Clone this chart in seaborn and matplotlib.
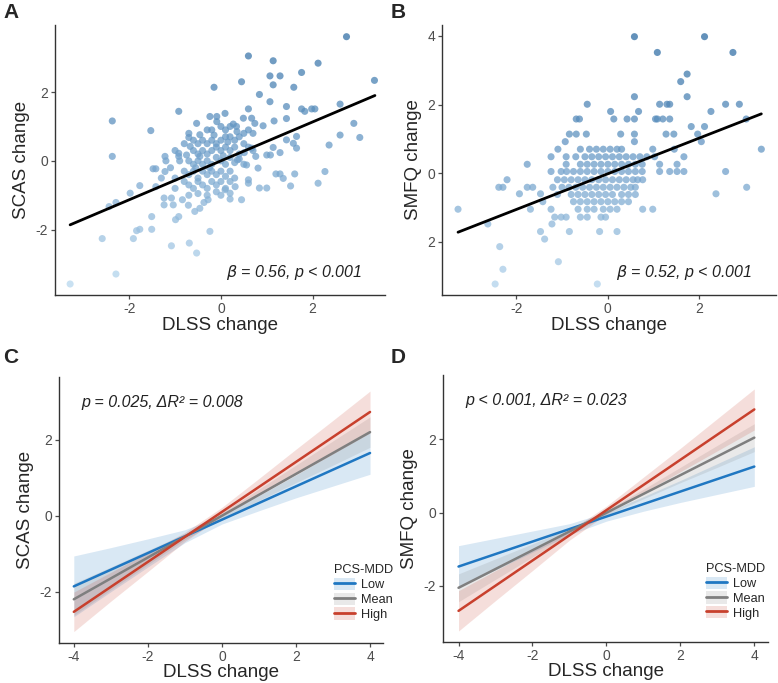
import numpy as np
import matplotlib as mpl
mpl.use('Agg')

import matplotlib.pyplot as plt
import seaborn as sns
import pandas as pd
from matplotlib.patches import Patch
from matplotlib.lines import Line2D

# Panel A: DLSS change vs SCAS change
a_points = [
    (2.74, 3.61), (0.60, 3.05), (1.14, 2.91), (2.12, 2.84), (1.07, 2.47), (1.29, 2.47),
    (1.76, 2.57), (0.45, 2.30), (3.35, 2.34), (1.14, 2.21), (1.59, 2.14), (-0.15, 2.14),
    (0.84, 1.93), (1.07, 1.72), (2.60, 1.65), (0.60, 1.51), (1.43, 1.58), (1.76, 1.51),
    (1.98, 1.51), (2.05, 1.51), (1.83, 1.44), (-0.92, 1.44), (-2.37, 1.16), (1.16, 1.16),
    (1.43, 1.23), (2.90, 1.09), (-1.53, 0.88), (2.60, 0.75), (3.03, 0.68), (2.36, 0.46),
    (-2.37, 0.13), (2.27, -0.31), (2.12, -0.65), (-1.98, -0.94), (-2.29, -1.21), (-2.44, -1.33),
    (-1.77, -0.72), (-1.51, -1.62), (-1.51, -1.99), (-1.77, -1.99), (-1.84, -2.03), (-1.91, -2.26),
    (-2.59, -2.26), (-0.24, -2.05), (-0.92, -1.62), (-0.99, -1.71), (-1.08, -2.47), (-0.69, -2.39),
    (-0.53, -2.68), (-2.29, -3.29), (-3.29, -3.58), (1.61, -0.38), (1.52, -0.73), (1.29, -0.38),
    (1.20, -0.38), (1.36, -0.51), (1.00, -0.79), (0.84, -0.79), (0.45, -1.13), (0.60, -0.65),
    (0.60, -0.55), (0.31, -0.75), (0.20, -0.94), (0.09, -0.84), (0.20, -1.11), (-0.37, -1.21),
    (-0.28, -1.13), (-0.46, -1.38), (-0.57, -1.47), (-0.71, -1.29), (-0.84, -1.13), (-1.04, -1.28),
    (-1.24, -1.28), (-1.24, -1.08), (-1.08, -1.08), (-1.42, -0.75), (-1.42, -0.23), (-1.48, -0.23),
    (-1.22, -0.31), (-1.22, 0.13), (-0.92, 0.22), (-0.92, 0.13), (-0.75, 0.17), (-0.46, 0.13),
    (-0.70, 0.68), (-0.67, 0.42), (-0.46, 0.76), (-0.53, 1.09), (-0.24, 1.29), (-0.09, 1.29),
    (-0.09, 1.14), (0.09, 1.38), (0.27, 1.07), (0.34, 1.00), (0.49, 1.24), (0.67, 1.24),
    (0.74, 1.09), (0.92, 1.02), (1.14, 0.39), (1.00, 0.17), (1.08, 0.17), (1.29, 0.24),
    (1.43, 0.61), (1.65, 0.71), (1.65, 0.37), (1.58, 0.51), (0.76, 0.13), (0.81, -0.21),
    (0.56, -0.12), (0.51, 0.24), (0.67, 0.37), (0.36, 0.03),
    (-0.60, 0.60), (-0.50, 0.50), (-0.40, 0.60), (-0.30, 0.50), (-0.20, 0.60), (-0.10, 0.50),
    (0.00, 0.60), (0.10, 0.70), (0.20, 0.70), (0.30, 0.60), (0.40, 0.70), (0.50, 0.80),
    (0.60, 0.90), (0.70, 0.80), (-0.60, 0.30), (-0.50, 0.20), (-0.40, 0.30), (-0.30, 0.20),
    (-0.20, 0.30), (-0.10, 0.40), (0.00, 0.30), (0.10, 0.40), (0.20, 0.30), (0.30, 0.40),
    (0.40, 0.20), (0.50, 0.50), (0.60, 0.40), (0.70, 0.30), (-0.70, 0.00), (-0.60, -0.10),
    (-0.50, 0.00), (-0.40, -0.10), (-0.30, 0.00), (-0.20, -0.10), (-0.10, 0.10), (0.00, 0.00),
    (0.10, -0.10), (0.20, 0.10), (0.30, -0.05), (0.40, 0.05), (0.50, -0.10), (-0.80, -0.30),
    (-0.70, -0.40), (-0.60, -0.30), (-0.50, -0.50), (-0.40, -0.30), (-0.30, -0.40), (-0.20, -0.30),
    (-0.10, -0.40), (0.00, -0.30), (0.10, -0.45), (0.20, -0.30), (0.30, -0.50), (-0.80, -0.60),
    (-0.70, -0.70), (-0.60, -0.80), (-0.50, -0.60), (-0.40, -0.70), (-0.30, -0.80), (-0.20, -0.60),
    (-0.10, -0.70), (0.00, -0.60), (0.10, -0.80), (0.20, -0.60), (-0.70, -1.00), (-0.50, -0.95),
    (-0.30, -1.00), (-0.10, -0.90), (0.00, -1.00), (-1.00, -0.50), (-1.10, -0.20), (-1.20, 0.00),
    (-1.00, -0.80), (-1.30, -0.50), (-0.90, 0.00), (-1.00, 0.30), (-0.80, 0.50), (-0.70, 0.80),
    (-0.20, 0.90), (0.00, 1.00), (0.20, 1.00), (-0.30, 0.90), (0.10, 0.90), (-0.15, 0.75),
    (0.05, 0.15), (-0.25, -0.20), (0.35, 0.85), (-0.55, -0.20), (0.15, 0.55),
]

# Panel B: DLSS change vs SMFQ change
b_points = [
    (0.58, 3.98), (2.11, 3.98), (1.08, 3.52), (2.73, 3.52), (1.73, 2.89), (1.59, 2.67),
    (0.58, 2.23), (1.73, 2.23), (-0.45, 2.01), (2.57, 2.01), (2.87, 2.01), (1.13, 2.01),
    (1.35, 2.01), (1.29, 2.01), (0.06, 1.80), (0.67, 1.80), (2.25, 1.80), (-0.69, 1.58),
    (-0.62, 1.58), (0.13, 1.58), (0.42, 1.58), (0.58, 1.58), (1.04, 1.58), (1.08, 1.58),
    (1.20, 1.58), (1.35, 1.58), (3.02, 1.58), (1.82, 1.36), (2.11, 1.36), (-0.84, 1.14),
    (-0.69, 1.14), (-0.47, 1.14), (0.28, 1.14), (0.58, 1.14), (1.27, 1.14), (1.44, 1.14),
    (1.96, 1.14), (2.04, 0.92), (-0.93, 0.92), (0.58, 0.92), (0.98, 0.70), (1.45, 0.70),
    (3.35, 0.70), (-1.09, 0.70), (-1.24, 0.48), (-0.91, 0.48), (1.66, 0.48), (-1.76, 0.26),
    (-0.91, 0.26), (1.13, 0.26), (1.51, 0.26), (-1.24, 0.05), (-1.02, 0.05), (1.13, 0.05),
    (1.35, 0.05), (1.51, 0.05), (1.66, 0.05), (2.57, 0.05), (-2.20, -0.19), (-2.38, -0.41),
    (-2.29, -0.41), (3.03, -0.41), (-1.93, -0.60), (-1.76, -0.41), (-1.64, -0.41), (-1.47, -0.60),
    (-1.42, -0.83), (-1.69, -1.05), (-1.24, -1.05), (-3.27, -1.05), (-2.62, -1.48), (-1.16, -1.28),
    (-1.02, -1.28), (-0.91, -1.28), (-1.22, -1.48), (-1.47, -1.70), (-1.38, -1.92), (-0.84, -1.70),
    (-0.18, -1.70), (0.20, -1.70), (-2.36, -2.14), (-2.29, -2.80), (-2.46, -3.23), (-1.08, -2.58),
    (-0.23, -3.23), (2.36, -0.60), (0.76, -1.05), (0.98, -1.05), (0.20, -1.05), (0.76, -0.19),
    (1.02, 0.48),
    (-0.60, 0.70), (-0.40, 0.70), (-0.25, 0.70), (-0.10, 0.70), (0.05, 0.70), (0.20, 0.70),
    (0.30, 0.70), (-0.70, 0.48), (-0.50, 0.48), (-0.35, 0.48), (-0.20, 0.48), (-0.05, 0.48),
    (0.10, 0.48), (0.25, 0.48), (0.40, 0.48), (0.55, 0.48), (0.70, 0.48), (0.85, 0.48),
    (-0.60, 0.26), (-0.45, 0.26), (-0.30, 0.26), (-0.15, 0.26), (0.00, 0.26), (0.15, 0.26),
    (0.30, 0.26), (0.45, 0.26), (0.60, 0.26), (0.75, 0.26), (-0.90, 0.05), (-0.75, 0.05),
    (-0.60, 0.05), (-0.45, 0.05), (-0.30, 0.05), (-0.15, 0.05), (0.00, 0.05), (0.15, 0.05),
    (0.30, 0.05), (0.45, 0.05), (0.60, 0.05), (0.75, 0.05), (-1.10, -0.19), (-0.95, -0.19),
    (-0.80, -0.19), (-0.65, -0.19), (-0.50, -0.19), (-0.35, -0.19), (-0.20, -0.19), (-0.05, -0.19),
    (0.10, -0.19), (0.25, -0.19), (0.40, -0.19), (0.55, -0.19), (0.65, -0.19), (-1.20, -0.41),
    (-1.00, -0.41), (-0.85, -0.41), (-0.70, -0.41), (-0.55, -0.41), (-0.40, -0.41), (-0.25, -0.41),
    (-0.10, -0.41), (0.05, -0.41), (0.20, -0.41), (0.35, -0.41), (0.50, -0.41), (0.60, -0.41),
    (-1.10, -0.62), (-0.80, -0.62), (-0.65, -0.62), (-0.50, -0.62), (-0.35, -0.62), (-0.20, -0.62),
    (-0.05, -0.62), (0.10, -0.62), (0.30, -0.62), (0.45, -0.62), (0.60, -0.62), (-0.75, -0.83),
    (-0.60, -0.83), (-0.45, -0.83), (-0.30, -0.83), (-0.15, -0.83), (0.00, -0.83), (0.15, -0.83),
    (0.30, -0.83), (0.45, -0.83), (-0.65, -1.05), (-0.45, -1.05), (-0.30, -1.05), (-0.10, -1.05),
    (0.05, -1.05), (-0.60, -1.28), (-0.45, -1.28), (-0.15, -1.28), (-0.05, -1.28),
]

# fitted lines in A and B (end points)
a_fit_x = [-3.29, 3.36]
a_fit_y = [-1.86, 1.90]
b_fit_x = [-3.27, 3.35]
b_fit_y = [-1.72, 1.73]

# Panels C and D: simple slopes by PCS-MDD level
groups = ['Low', 'Mean', 'High']
group_colors = {'Low': '#1f77c2', 'Mean': '#7f7f7f', 'High': '#c8402d'}
line_x = [-4, 4]
c_line_y = {'Low': [-1.86, 1.65], 'Mean': [-2.20, 2.20], 'High': [-2.53, 2.73]}
d_line_y = {'Low': [-1.47, 1.26], 'Mean': [-2.05, 2.05], 'High': [-2.68, 2.82]}

band_x = [-4, -3, -2, -1, 0, 1, 2, 3, 4]
c_band_lo = {
    'Low': [-2.66, -2.00, -1.35, -0.71, -0.22, 0.13, 0.47, 0.78, 1.09],
    'Mean': [-2.62, -1.95, -1.29, -0.63, -0.08, 0.40, 0.87, 1.33, 1.80],
    'High': [-3.05, -2.25, -1.47, -0.68, -0.02, 0.54, 1.09, 1.63, 2.18],
}
c_band_hi = {
    'Low': [-1.06, -0.84, -0.61, -0.37, 0.02, 0.53, 1.07, 1.64, 2.21],
    'Mean': [-1.78, -1.35, -0.91, -0.47, 0.08, 0.70, 1.33, 1.97, 2.60],
    'High': [-2.01, -1.49, -0.97, -0.44, 0.22, 0.98, 1.75, 2.51, 3.28],
}
d_band_lo = {
    'Low': [-2.04, -1.56, -1.08, -0.60, -0.23, 0.04, 0.28, 0.50, 0.72],
    'Mean': [-2.43, -1.82, -1.21, -0.59, -0.07, 0.38, 0.82, 1.24, 1.67],
    'High': [-3.23, -2.40, -1.58, -0.75, -0.04, 0.55, 1.12, 1.69, 2.26],
}
d_band_hi = {
    'Low': [-0.90, -0.70, -0.50, -0.30, 0.01, 0.44, 0.88, 1.34, 1.80],
    'Mean': [-1.67, -1.26, -0.85, -0.43, 0.07, 0.64, 1.24, 1.84, 2.43],
    'High': [-2.13, -1.58, -1.04, -0.49, 0.18, 0.97, 1.76, 2.57, 3.38],
}

sns.set_style("ticks")
plt.rcParams['font.family'] = ['Liberation Sans', 'DejaVu Sans']
plt.rcParams['axes.unicode_minus'] = False

TICK = '#4d4d4d'
point_cmap = sns.blend_palette(['#b7d7ee', '#6f9fca', '#2f6da3'], as_cmap=True)


def style_axes(ax):
    sns.despine(ax=ax)
    for s in ['left', 'bottom']:
        ax.spines[s].set_linewidth(1.0)
        ax.spines[s].set_color('#333333')
    ax.tick_params(colors=TICK, labelsize=10, length=3, width=0.9, pad=2)
    ax.tick_params(axis='both', labelcolor=TICK)


def scatter_panel(ax, points, fit_x, fit_y, ylabel, note, xlim, ylim):
    df = pd.DataFrame(points, columns=['dlss', 'score'])
    sns.scatterplot(data=df, x='dlss', y='score', hue='score', palette=point_cmap,
                    hue_norm=(-3.6, 4.0), s=26, alpha=0.75, linewidth=0,
                    legend=False, ax=ax)
    sns.lineplot(x=fit_x, y=fit_y, color='black', linewidth=2.0, ax=ax)
    ax.set_xlim(*xlim)
    ax.set_ylim(*ylim)
    ax.set_xlabel('DLSS change', fontsize=13.5, labelpad=1)
    ax.set_ylabel(ylabel, fontsize=13.5, labelpad=4)
    ax.text(0.93, 0.085, note, transform=ax.transAxes, ha='right', va='center',
            fontsize=11.5, style='italic', color='#222222')
    style_axes(ax)


def slopes_panel(ax, line_y, band_lo, band_hi, ylabel, note, xlim, ylim, leg_x):
    for g in groups:
        ax.fill_between(band_x, band_lo[g], band_hi[g], color=group_colors[g],
                        alpha=0.17, linewidth=0)
    for g in groups:
        sns.lineplot(x=line_x, y=line_y[g], color=group_colors[g], linewidth=1.8, ax=ax)
    ax.set_xlim(*xlim)
    ax.set_ylim(*ylim)
    ax.set_xticks([-4, -2, 0, 2, 4])
    ax.set_yticks([-2, 0, 2])
    ax.set_xlabel('DLSS change', fontsize=13.5, labelpad=0)
    ax.set_ylabel(ylabel, fontsize=13.5, labelpad=4)
    ax.text(0.07, 0.905, note, transform=ax.transAxes, ha='left', va='center',
            fontsize=11.5, style='italic', color='#222222')
    handles = [(Patch(facecolor=group_colors[g], alpha=0.17, edgecolor='none'),
                Line2D([], [], color=group_colors[g], linewidth=2)) for g in groups]
    leg = ax.legend(handles, groups, title='PCS-MDD', loc='lower right',
                    bbox_to_anchor=(leg_x, 0.05), frameon=False, fontsize=9.2,
                    title_fontsize=9.2, handlelength=1.6, handleheight=1.1,
                    labelspacing=0.1, handletextpad=0.5, borderpad=0.2)
    leg._legend_box.align = 'left'
    style_axes(ax)


fig = plt.figure(figsize=(7.78, 6.83), dpi=100)
W, H = 778.0, 683.0


def add_axes(l, t, r, b):
    return fig.add_axes([l / W, 1 - b / H, (r - l) / W, (b - t) / H])


ax_a = add_axes(55, 25, 385, 295)
ax_b = add_axes(442, 25, 776, 295)
ax_c = add_axes(59, 377, 383, 643)
ax_d = add_axes(443, 375, 768, 642)

scatter_panel(ax_a, a_points, a_fit_x, a_fit_y, 'SCAS change',
              r'$\beta$ = 0.56, p < 0.001', (-3.62, 3.58), (-3.9, 3.95))
ax_a.set_xticks([-2, 0, 2])
ax_a.set_yticks([-2, 0, 2])

scatter_panel(ax_b, b_points, b_fit_x, b_fit_y, 'SMFQ change',
              r'$\beta$ = 0.52, p < 0.001', (-3.62, 3.67), (-3.55, 4.32))
ax_b.set_xticks([-2, 0, 2])
ax_b.set_yticks([-2, 0, 2, 4])
ax_b.set_yticklabels(['2', '0', '2', '4'])

slopes_panel(ax_c, c_line_y, c_band_lo, c_band_hi, 'SCAS change',
             'p = 0.025, ΔR² = 0.008', (-4.4, 4.35), (-3.35, 3.65), 1.06)
slopes_panel(ax_d, d_line_y, d_band_lo, d_band_hi, 'SMFQ change',
             'p < 0.001, ΔR² = 0.023', (-4.42, 4.37), (-3.53, 3.76), 1.02)

for label, x, y in [('A', 3, 3), ('B', 391, 3), ('C', 3, 348), ('D', 391, 348)]:
    fig.text(x / W, 1 - y / H, label, fontsize=15, fontweight='bold', ha='left', va='top')

fig.savefig('out.png', dpi=100)
plt.close()
